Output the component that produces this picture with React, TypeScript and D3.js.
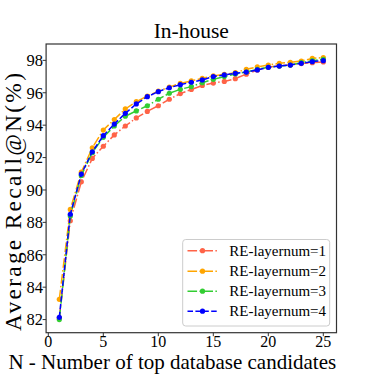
import React from "react";
import * as d3 from "d3";

const N = d3.range(1, 26);
const layer1 = [82.1, 88.1, 90.5, 91.95, 92.7, 93.4, 93.95, 94.45, 94.85, 95.2, 95.6, 95.95, 96.2, 96.45, 96.6, 96.7, 96.87, 97.15, 97.4, 97.57, 97.67, 97.72, 97.8, 97.86, 97.9];
const layer2 = [83.25, 88.8, 91.1, 92.6, 93.7, 94.35, 95.0, 95.45, 95.8, 96.1, 96.35, 96.58, 96.73, 96.89, 97.04, 97.14, 97.24, 97.45, 97.6, 97.71, 97.82, 97.88, 97.96, 98.12, 98.17];
const layer3 = [82.0, 88.4, 90.9, 92.3, 93.25, 93.95, 94.55, 94.88, 95.2, 95.6, 95.97, 96.21, 96.38, 96.62, 96.83, 97.0, 97.16, 97.28, 97.45, 97.57, 97.65, 97.71, 97.86, 97.98, 98.07];
const layer4 = [82.14, 88.5, 90.98, 92.36, 93.35, 94.07, 94.73, 95.31, 95.76, 96.07, 96.31, 96.5, 96.65, 96.79, 97.0, 97.1, 97.2, 97.28, 97.41, 97.57, 97.65, 97.71, 97.82, 97.92, 97.98];
const seriesNames = ["RE-layernum=1", "RE-layernum=2", "RE-layernum=3", "RE-layernum=4"];
const seriesValues = [layer1, layer2, layer3, layer4];
const seriesColors = ["#ff6347", "#ffa500", "#32cd32", "#0000ff"];
const seriesDash = ["9.6,2.4,1.5,2.4", "9.6,2.4,1.5,2.4", "9.6,2.4,1.5,2.4", "5.5,2.4"];
const xTicks = [0, 5, 10, 15, 20, 25];
const yTicks = [82, 84, 86, 88, 90, 92, 94, 96, 98];
const title = "In-house";
const xLabel = "N - Number of top database candidates";
const yLabel = "Average Recall@N(%)";

const FONT = "'Liberation Serif', 'Times New Roman', serif";

export default function App() {
  const W = 374, H = 374;
  const left = 46.1, right = 336.5, top = 44, bottom = 332.7;
  const x = d3.scaleLinear().domain([-0.2, 26.2]).range([left, right]);
  const y = d3.scaleLinear().domain([81.19, 99.01]).range([bottom, top]);
  const line = d3.line<number>().x((_, i) => x(N[i])).y((d) => y(d));

  const legX = 182.7, legY = 239.5, legW = 147, legH = 86.5;
  const rowY = [250.7, 271.2, 291.2, 311.2];

  return (
    <svg width={W} height={H} style={{ position: "absolute", left: 0, top: 0, background: "#fff" }} fontFamily={FONT}>
      <rect x={0} y={0} width={W} height={H} fill="#fff" />
      <text x={(left + right) / 2} y={38.3} textAnchor="middle" fontSize={21.5} fill="#000">{title}</text>
      {seriesValues.map((vals, si) => (
        <g key={si}>
          <path d={line(vals) || ""} fill="none" stroke={seriesColors[si]} strokeWidth={1.5} strokeDasharray={seriesDash[si]} />
          {vals.map((v, i) => (
            <circle key={i} cx={x(N[i])} cy={y(v)} r={2.6} fill={seriesColors[si]} />
          ))}
        </g>
      ))}
      <rect x={left} y={top} width={right - left} height={bottom - top} fill="none" stroke="#333" strokeWidth={1.2} />
      {xTicks.map((t) => (
        <g key={t}>
          <line x1={x(t)} x2={x(t)} y1={bottom} y2={bottom + 3.5} stroke="#333" strokeWidth={1} />
          <text x={x(t)} y={347.3} textAnchor="middle" fontSize={16} fill="#000">{t}</text>
        </g>
      ))}
      {yTicks.map((t) => (
        <g key={t}>
          <line x1={left - 3.5} x2={left} y1={y(t)} y2={y(t)} stroke="#333" strokeWidth={1} />
          <text x={43} y={y(t)} dy="0.35em" textAnchor="end" fontSize={16.5} fill="#000">{t}</text>
        </g>
      ))}
      <text x={(left + right) / 2 - 19} y={369.3} textAnchor="middle" fontSize={21} fill="#000">{xLabel}</text>
      <text transform={`translate(21,202) rotate(-90)`} textAnchor="middle" fontSize={23.5} textLength={258} lengthAdjust="spacing" fill="#000">{yLabel}</text>
      <rect x={legX} y={legY} width={legW} height={legH} rx={3} fill="#fff" fillOpacity={0.8} stroke="#ccc" strokeWidth={1} />
      {seriesNames.map((name, si) => (
        <g key={name}>
          <line x1={187.5} x2={217.5} y1={rowY[si]} y2={rowY[si]} stroke={seriesColors[si]} strokeWidth={1.5} strokeDasharray={seriesDash[si]} />
          <circle cx={202.5} cy={rowY[si]} r={2.6} fill={seriesColors[si]} />
          <text x={229.3} y={rowY[si]} dy="0.35em" fontSize={15} fill="#000">{name}</text>
        </g>
      ))}
    </svg>
  );
}
